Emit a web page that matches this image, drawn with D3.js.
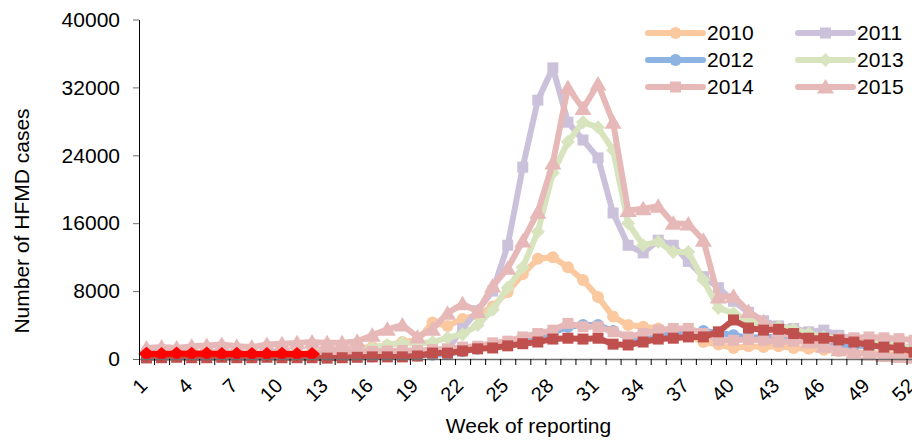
<!DOCTYPE html>
<html>
<head>
<meta charset="utf-8">
<script src="https://cdn.jsdelivr.net/npm/d3@7"></script>
<style>
	body { margin: 0; background: #ffffff; }
	#chartDiv svg { display: block; font-family: "Liberation Sans", Arial, sans-serif; }
</style>
</head>
<body>
<div id="chartDiv"></div>
<script>
;(function() {

	// ---- data ----
	var weeks = d3.range(1, 53);
	var xTickLabels = [1, 4, 7, 10, 13, 16, 19, 22, 25, 28, 31, 34, 37, 40, 43, 46, 49, 52];
	var yTicks = [0, 8000, 16000, 24000, 32000, 40000];

	var y2010 = [600, 650, 600, 700, 650, 600, 650, 600, 650, 700, 650, 700,
		1100, 1200, 1300, 1400, 1600, 2000, 2200, 4300, 3900, 4700, 5200, 6200,
		7900, 10000, 11800, 12000, 10800, 9300, 7300, 5000, 4000, 3800, 3600, 3300,
		2800, 2000, 1700, 1300, 1500, 1400, 1500, 1300, 1200, 1100, 900, 800,
		700, 600, 500, 400];
	var y2011 = [500, 550, 500, 600, 550, 500, 550, 500, 550, 500, 550, 500,
		300, 300, 350, 400, 400, 450, 500, 700, 1100, 3600, 5700, 8000,
		13400, 22600, 30500, 34300, 27900, 25800, 23700, 17200, 13400, 12500, 14000, 13400,
		11500, 9700, 8400, 6800, 5500, 4500, 3900, 3600, 3200, 3400, 2800, 2400,
		2200, 1900, 1600, 1300];
	var y2012 = [900, 600, 600, 650, 600, 600, 650, 600, 600, 650, 600, 600,
		300, 300, 300, 300, 350, 350, 400, 500, 600, 900, 1200, 1500,
		1900, 2300, 2700, 3100, 3800, 4000, 4000, 3300, 2500, 2300, 2600, 3000,
		3100, 3300, 3100, 2800, 2500, 2600, 2600, 2400, 2200, 2300, 1700, 1600,
		1500, 1500, 1400, 1300];
	var y2013 = [500, 500, 550, 500, 500, 550, 500, 500, 550, 500, 500, 550,
		900, 1000, 1100, 1300, 1650, 1900, 1800, 2000, 2500, 2900, 4000, 5800,
		8400, 10800, 15000, 21900, 25600, 27900, 27300, 24600, 16000, 13400, 13800, 12600,
		12600, 9300, 6000, 5400, 4500, 4000, 3800, 3500, 3000, 2600, 2400, 2200,
		2000, 1800, 1500, 1300];
	var y2014 = [100, 500, 550, 500, 550, 500, 550, 500, 550, 500, 550, 600,
		800, 850, 900, 900, 950, 1000, 1000, 1100, 1200, 1400, 1500, 1900,
		2100, 2600, 3000, 3400, 4200, 3800, 3800, 3200, 2600, 3000, 3400, 3600,
		3600, 3000, 2200, 2200, 2300, 2200, 2000, 2100, 2000, 2000, 2400, 2500,
		2600, 2500, 2400, 2200];
	var y2015 = [1300, 1400, 1300, 1500, 1600, 1700, 1500, 1400, 1700, 1800, 1900, 2000,
		1900, 1900, 2100, 2800, 3500, 4000, 2600, 3500, 5400, 6500, 5600, 8600,
		10700, 13900, 17300, 23100, 32000, 29500, 32400, 27900, 17500, 17700, 18000, 16000,
		15900, 14000, 7300, 7400, 5600, 4400, 3300, 2600, 2000, 1500, 1100, 800,
		600, 400, 300, 200];
	// two series not named in the legend
	var y2016 = [150, 150, 200, 150, 150, 200, 150, 150, 200, 150, 150, 150,
		100, 150, 200, 250, 250, 250, 350, 700, 700, 950, 1200, 1300,
		1550, 1800, 2000, 2350, 2450, 2350, 2450, 1750, 1650, 2000, 2350, 2450,
		2600, 2600, 3200, 4600, 3650, 3400, 3500, 3000, 2450, 2450, 2250, 2000,
		1650, 1400, 1300, 800];
	var y2017 = [620, 580, 660, 620, 640, 600, 620, 590, 600, 620, 590, 580];

	var legendNames = ["2010", "2011", "2012", "2013", "2014", "2015"];

	var xAxisLabelHeader = "Week of reporting";
	var yAxisLabelHeader = "Number of HFMD cases";

	var margin = { top: 19.5, left: 139 };
	var width = 912;
	var height = 440;
	var bandStep = 15.05;
	var chartWidth;
	var chartHeight = 339.5;

	var seriesList;
	var chart;

	init();

	function init() {
		chartWidth = bandStep * weeks.length;

		seriesList = [
			{ name: "2010", values: y2010, color: "#fbc9a0", marker: "circle" },
			{ name: "2011", values: y2011, color: "#ccc1da", marker: "square" },
			{ name: "2012", values: y2012, color: "#8db3e2", marker: "circle" },
			{ name: "2013", values: y2013, color: "#d7e4bd", marker: "diamond" },
			{ name: "2014", values: y2014, color: "#e6b9b8", marker: "square" },
			{ name: "2015", values: y2015, color: "#e6b9b8", marker: "triangle" },
			{ name: "2016", values: y2016, color: "#c0504d", marker: "square" },
			{ name: "2017", values: y2017, color: "#ff0000", marker: "bigdiamond" }
		];

		initializeChart();
		createAxes();
		drawSeries();
		drawLegend();
	}

	function initializeChart() {
		chart = d3.select("#chartDiv").append("svg")
			.attr("width", width)
			.attr("height", height);

		chart.append("rect")
			.attr("width", width)
			.attr("height", height)
			.attr("fill", "#ffffff");

		chart.plotArea = chart.append("g")
			.attr("transform", "translate(" + margin.left + "," + margin.top + ")");
	}

	function createAxes() {

		// category scale (points sit in the middle of each week)
		chart.xScale = d3.scaleBand()
			.domain(weeks)
			.range([0, chartWidth])
			.padding(0);

		// tick marks sit between categories
		chart.xEdge = d3.scaleLinear()
			.domain([0, weeks.length])
			.range([0, chartWidth]);

		chart.xAxis = d3.axisBottom(chart.xEdge)
			.tickValues(d3.range(0, weeks.length + 1))
			.tickFormat("")
			.tickSize(6)
			.tickSizeOuter(0);

		chart.xAxisContainer = chart.append("g")
			.attr("class", "x axis")
			.attr("transform", "translate(" + margin.left + "," + (margin.top + chartHeight) + ")")
			.call(chart.xAxis);

		chart.xAxisContainer.select(".domain")
			.attr("stroke", "#6e6e6e")
			.attr("stroke-width", 1.5);
		chart.xAxisContainer.selectAll(".tick line")
			.attr("stroke", "#000000");

		// rotated week labels
		chart.append("g")
			.attr("class", "x axis labels")
			.selectAll("text")
			.data(xTickLabels)
			.enter().append("text")
				.attr("text-anchor", "end")
				.style("font-size", "20px")
				.attr("fill", "#000000")
				.attr("transform", function(d) {
					var cx = margin.left + chart.xScale(d) + chart.xScale.bandwidth() / 2 + 2;
					return "translate(" + cx + "," + (margin.top + chartHeight + 28) + ") rotate(-45)";
				})
				.text(function(d) { return d; });

		// x axis header label
		chart.append("text")
			.style("font-size", "21px")
			.attr("text-anchor", "middle")
			.attr("transform", "translate(528.5,433)")
			.text(xAxisLabelHeader);

		// y axis
		chart.yScale = d3.scaleLinear()
			.domain([0, 40000])
			.range([chartHeight, 0]);

		chart.yAxis = d3.axisLeft(chart.yScale)
			.tickValues(yTicks)
			.tickFormat(d3.format("d"))
			.tickSize(6)
			.tickPadding(13)
			.tickSizeOuter(0);

		chart.yAxisContainer = chart.append("g")
			.attr("class", "y axis")
			.attr("transform", "translate(" + margin.left + "," + margin.top + ")")
			.call(chart.yAxis);

		chart.yAxisContainer.selectAll("text")
			.style("font-size", "21px")
			.style("font-family", "Liberation Sans, Arial, sans-serif")
			.attr("fill", "#000000");
		chart.yAxisContainer.selectAll(".tick line")
			.attr("stroke", "#6e6e6e");

		// y axis header label
		chart.append("text")
			.style("font-size", "21px")
			.attr("text-anchor", "middle")
			.attr("transform", "translate(28.5,221) rotate(-90)")
			.text(yAxisLabelHeader);
	}

	function markerPath(type) {
		if (type === "circle") return d3.symbol(d3.symbolCircle, Math.PI * 6 * 6)();
		if (type === "square") return d3.symbol(d3.symbolSquare, 11 * 11)();
		if (type === "diamond") return "M0,-7L7,0L0,7L-7,0Z";
		if (type === "bigdiamond") return "M0,-7L8,0L0,7L-8,0Z";
		return "M0,-8L8.5,6.5L-8.5,6.5Z";
	}

	function drawSeries() {
		var cx = function(d, i) { return chart.xScale(weeks[i]) + chart.xScale.bandwidth() / 2; };

		var line = d3.line()
			.x(cx)
			.y(function(d) { return chart.yScale(d); });

		seriesList.forEach(function(s) {
			var g = chart.plotArea.append("g")
				.attr("class", "series s" + s.name);

			g.append("path")
				.datum(s.values)
				.attr("fill", "none")
				.attr("stroke", s.color)
				.attr("stroke-width", 6)
				.attr("stroke-linejoin", "round")
				.attr("d", line);

			g.selectAll(".mark")
				.data(s.values)
				.enter().append("path")
					.attr("class", "mark")
					.attr("d", markerPath(s.marker))
					.attr("fill", s.color)
					.attr("transform", function(d, i) {
						return "translate(" + cx(d, i) + "," + chart.yScale(d) + ")";
					});
		});
	}

	function drawLegend() {
		var legend = chart.append("g").attr("class", "legend");

		legendNames.forEach(function(name, i) {
			var s = seriesList.filter(function(d) { return d.name === name; })[0];
			var col = i % 2;
			var row = Math.floor(i / 2);
			var x0 = col === 0 ? 648 : 798;
			var y0 = 33 + row * 27;

			var item = legend.append("g")
				.attr("transform", "translate(" + x0 + "," + y0 + ")");

			item.append("line")
				.attr("x1", 0).attr("x2", 55)
				.attr("y1", 0).attr("y2", 0)
				.attr("stroke", s.color)
				.attr("stroke-width", 6)
				.attr("stroke-linecap", "round");

			item.append("path")
				.attr("d", markerPath(s.marker))
				.attr("fill", s.color)
				.attr("transform", "translate(27.5,0)");

			item.append("text")
				.attr("x", 59)
				.attr("dy", "0.35em")
				.style("font-size", "21px")
				.text(name);
		});
	}

})();
</script>
</body>
</html>
